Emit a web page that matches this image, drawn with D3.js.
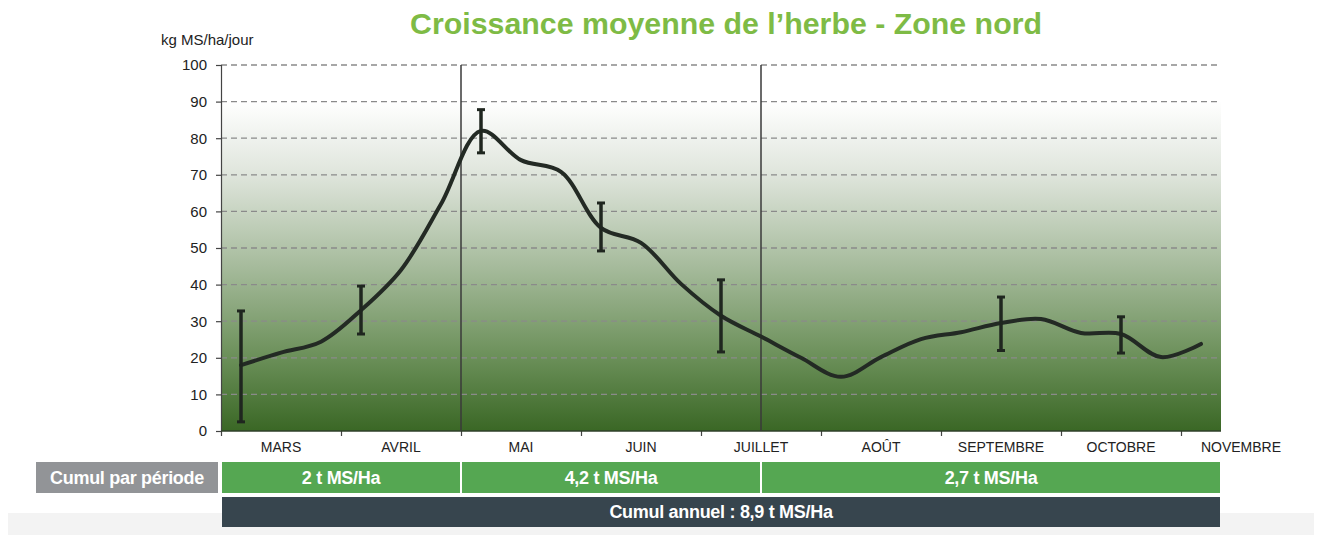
<!DOCTYPE html>
<html>
<head>
<meta charset="utf-8">
<script src="https://cdn.jsdelivr.net/npm/d3@7"></script>
<style>
  body { margin: 0; background: #fff; }
  svg { display: block; font-family: "Liberation Sans", Arial, sans-serif; }
</style>
</head>
<body>
<script>
// data
let months = ["MARS", "AVRIL", "MAI", "JUIN", "JUILLET", "AOÛT", "SEPTEMBRE", "OCTOBRE", "NOVEMBRE"]
// growth by décade (10 days), starting early March
let growth = [18, 21.4, 24.4, 33, 44, 62, 82, 74, 70.8, 55.5, 51.4, 40.2, 31.5,
              25.8, 20, 14.8, 20.2, 25.1, 27, 29.5, 30.6, 26.8, 26.5, 20.2, 23.8]
// error bars: décade index, low, high
let errIndex = [0, 3, 6, 9, 12, 19, 22]
let errLow = [2.5, 26.5, 76, 49.2, 21.6, 22, 21.3]
let errHigh = [32.8, 39.6, 87.8, 62.3, 41.3, 36.6, 31.2]
let yTicks = [0, 10, 20, 30, 40, 50, 60, 70, 80, 90, 100]
// periods in décades
let periodStart = [0, 6, 13.5]
let periodEnd = [6, 13.5, 25]
let periodLabels = ["2 t MS/Ha", "4,2 t MS/Ha", "2,7 t MS/Ha"]
let annualLabel = "Cumul annuel : 8,9 t MS/Ha"

let svg = d3.select('body')
    .append('svg')
    .attr('width', 1320)
    .attr('height', 535)

let x = d3.scaleLinear().domain([0, 25]).range([221, 1221])
let y = d3.scaleLinear().domain([0, 100]).range([431, 65])

// background gradient
let grad = svg.append('defs').append('linearGradient')
    .attr('id', 'bg')
    .attr('gradientUnits', 'userSpaceOnUse')
    .attr('x1', 0).attr('x2', 0)
    .attr('y1', y(90)).attr('y2', y(0))
grad.append('stop').attr('offset', 0).attr('stop-color', '#ffffff')
grad.append('stop').attr('offset', 0.22).attr('stop-color', '#dfe5dc')
grad.append('stop').attr('offset', 0.5).attr('stop-color', '#a6bb9c')
grad.append('stop').attr('offset', 0.78).attr('stop-color', '#6a8f58')
grad.append('stop').attr('offset', 1).attr('stop-color', '#3a6725')

svg.append('rect')
    .attr('x', x(0))
    .attr('y', y(100))
    .attr('width', x(25) - x(0))
    .attr('height', y(0) - y(100))
    .style('fill', 'url(#bg)')

// light strip at the bottom
svg.append('rect')
    .attr('x', 8).attr('y', 513)
    .attr('width', 1306).attr('height', 22)
    .style('fill', '#f3f3f3')

// title
svg.append('text')
    .attr('x', 726)
    .attr('y', 34)
    .attr('text-anchor', 'middle')
    .attr('textLength', 632)
    .attr('lengthAdjust', 'spacingAndGlyphs')
    .style('font-family', '"Liberation Sans Narrow", "Liberation Sans", Arial, sans-serif')
    .style('font-weight', 'bold')
    .style('font-size', '30px')
    .style('fill', '#7ebb45')
    .text("Croissance moyenne de l’herbe - Zone nord")

svg.append('text')
    .attr('x', 161)
    .attr('y', 45)
    .style('font-size', '15px')
    .style('fill', '#222')
    .text('kg MS/ha/jour')

// grid
svg.append('g')
    .selectAll('line')
    .data(yTicks.filter(d => d > 0))
    .join('line')
    .attr('x1', x(0))
    .attr('x2', x(25))
    .attr('y1', d => y(d))
    .attr('y2', d => y(d))
    .style('stroke', '#8a8a8a')
    .style('stroke-width', 1.3)
    .style('stroke-dasharray', '6,4')

// y axis
let yAxis = svg.append('g')
    .attr('transform', `translate(${x(0)},0)`)
    .call(d3.axisLeft(y).tickValues(yTicks).tickSize(5).tickPadding(9))
yAxis.selectAll('text').style('font-size', '15px').style('fill', '#222')
    .style('font-family', '"Liberation Sans", Arial, sans-serif')
yAxis.selectAll('line, path').style('stroke', '#444').style('stroke-width', 1.2)

// x axis
let xAxis = svg.append('g')
    .attr('transform', `translate(0,${y(0)})`)
    .call(d3.axisBottom(x).tickValues(d3.range(0, 27, 3)).tickSize(5).tickFormat(''))
xAxis.select('.domain').remove()
xAxis.selectAll('line').style('stroke', '#444').style('stroke-width', 1.2)
svg.append('line')
    .attr('x1', x(0)).attr('x2', x(25))
    .attr('y1', y(0)).attr('y2', y(0))
    .style('stroke', '#2f3f2a').style('stroke-width', 1.5)

svg.append('g')
    .selectAll('text')
    .data(months)
    .join('text')
    .attr('x', (d, i) => x(3 * i + 1.5))
    .attr('y', 452)
    .attr('text-anchor', 'middle')
    .style('font-size', '14px')
    .style('fill', '#222')
    .text(d => d)

// period dividers
svg.append('g')
    .selectAll('line')
    .data(periodStart.slice(1))
    .join('line')
    .attr('x1', d => x(d))
    .attr('x2', d => x(d))
    .attr('y1', y(100))
    .attr('y2', y(0))
    .style('stroke', '#3a3a3a')
    .style('stroke-width', 1.5)

// growth curve
let line = d3.line()
    .x((d, i) => x(i + 0.5))
    .y(d => y(d))
    .curve(d3.curveCatmullRom.alpha(0.5))
svg.append('path')
    .datum(growth)
    .attr('d', line)
    .style('fill', 'none')
    .style('stroke', '#232a24')
    .style('stroke-width', 4)
    .style('stroke-linejoin', 'round')
    .style('stroke-linecap', 'round')

// error bars
let eb = svg.append('g')
    .selectAll('g')
    .data(errIndex)
    .join('g')
    .style('stroke', '#1f261f')
eb.append('line')
    .attr('x1', d => x(d + 0.5))
    .attr('x2', d => x(d + 0.5))
    .attr('y1', (d, i) => y(errLow[i]))
    .attr('y2', (d, i) => y(errHigh[i]))
    .style('stroke-width', 3.5)
eb.append('line')
    .attr('x1', d => x(d + 0.5) - 4)
    .attr('x2', d => x(d + 0.5) + 4)
    .attr('y1', (d, i) => y(errLow[i]))
    .attr('y2', (d, i) => y(errLow[i]))
    .style('stroke-width', 3)
eb.append('line')
    .attr('x1', d => x(d + 0.5) - 4)
    .attr('x2', d => x(d + 0.5) + 4)
    .attr('y1', (d, i) => y(errHigh[i]))
    .attr('y2', (d, i) => y(errHigh[i]))
    .style('stroke-width', 3)

// cumul table
let boldText = sel => sel
    .style('font-weight', 'bold')
    .style('font-size', '18px')
    .style('fill', '#fff')
    .style('letter-spacing', '-0.3px')

svg.append('rect')
    .attr('x', 36).attr('y', 462)
    .attr('width', 182).attr('height', 31)
    .style('fill', '#929497')
svg.append('text')
    .attr('x', 127).attr('y', 484)
    .attr('text-anchor', 'middle')
    .call(boldText)
    .text('Cumul par période')

svg.append('g')
    .selectAll('rect')
    .data(periodLabels)
    .join('rect')
    .attr('x', (d, i) => x(periodStart[i]) + 1)
    .attr('y', 462)
    .attr('width', (d, i) => x(periodEnd[i]) - x(periodStart[i]) - 2)
    .attr('height', 31)
    .style('fill', '#55a752')
svg.append('g')
    .selectAll('text')
    .data(periodLabels)
    .join('text')
    .attr('x', (d, i) => (x(periodStart[i]) + x(periodEnd[i])) / 2)
    .attr('y', 484)
    .attr('text-anchor', 'middle')
    .call(boldText)
    .text(d => d)

svg.append('rect')
    .attr('x', x(0) + 1).attr('y', 497)
    .attr('width', x(25) - x(0) - 2).attr('height', 30)
    .style('fill', '#37454e')
svg.append('text')
    .attr('x', (x(0) + x(25)) / 2).attr('y', 518)
    .attr('text-anchor', 'middle')
    .call(boldText)
    .text(annualLabel)
</script>
</body>
</html>
